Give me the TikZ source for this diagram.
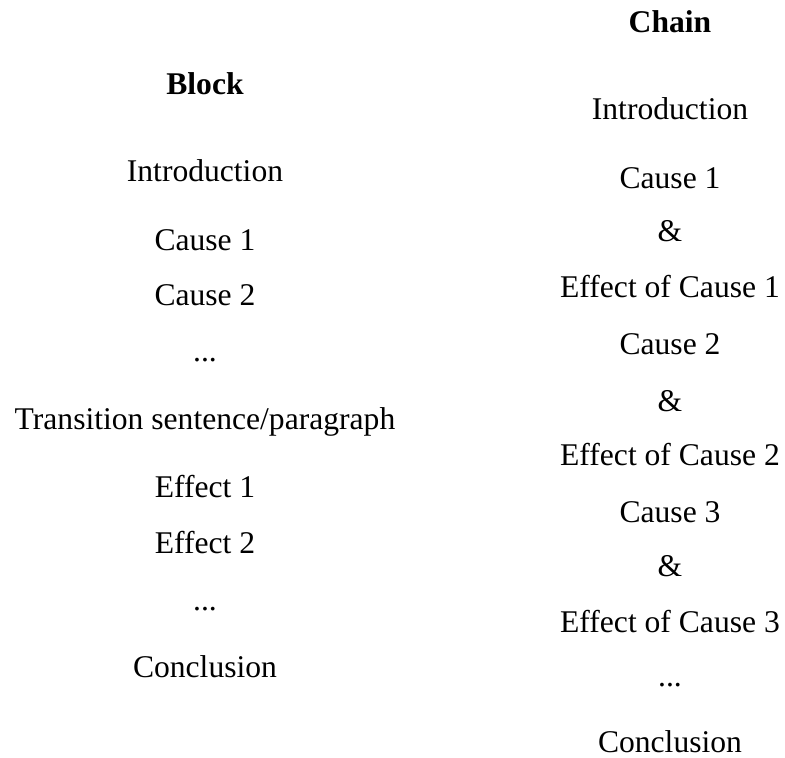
\documentclass[tikz,border=0pt]{standalone}
\usepackage{fontspec}
\setmainfont{Liberation Serif}
\usetikzlibrary{positioning}

\begin{document}
\begin{tikzpicture}[
        x=0.5pt, y=-0.5pt,
        item/.style={anchor=base, inner sep=0pt, font=\fontsize{15.8}{18}\selectfont},
        heading/.style={item, font=\fontsize{15.8}{18}\selectfont\bfseries}
    ]
        \useasboundingbox (0,0) rectangle (785,758);

        % --- BLOCK ---
        \node[heading] (block) at (205,95) {Block};
        \node[item] (bintro) at (205,182) {Introduction};
        \node[item] (bcause1) at (205,251) {Cause 1};
        \node[item] (bcause2) at (205,306) {Cause 2};
        \node[item] (bdots1) at (205,361) {...};
        \node[item] (btrans) at (205,429) {Transition sentence/paragraph};
        \node[item] (beffect1) at (205,497) {Effect 1};
        \node[item] (beffect2) at (205,553) {Effect 2};
        \node[item] (bdots2) at (205,610) {...};
        \node[item] (bconcl) at (205,677) {Conclusion};

        % --- CHAIN ---
        \node[heading] (chain) at (670,33) {Chain};
        \node[item] (cintro) at (670,120) {Introduction};
        \node[item] (ccause1) at (670,189) {Cause 1};
        \node[item] (cand1) at (670,242) {\&};
        \node[item] (ceffect1) at (670,298) {Effect of Cause 1};
        \node[item] (ccause2) at (670,355) {Cause 2};
        \node[item] (cand2) at (670,411) {\&};
        \node[item] (ceffect2) at (670,465) {Effect of Cause 2};
        \node[item] (ccause3) at (670,522) {Cause 3};
        \node[item] (cand3) at (670,576) {\&};
        \node[item] (ceffect3) at (670,632) {Effect of Cause 3};
        \node[item] (cdots) at (670,686) {...};
        \node[item] (cconcl) at (670,752) {Conclusion};

    \end{tikzpicture}
\end{document}
